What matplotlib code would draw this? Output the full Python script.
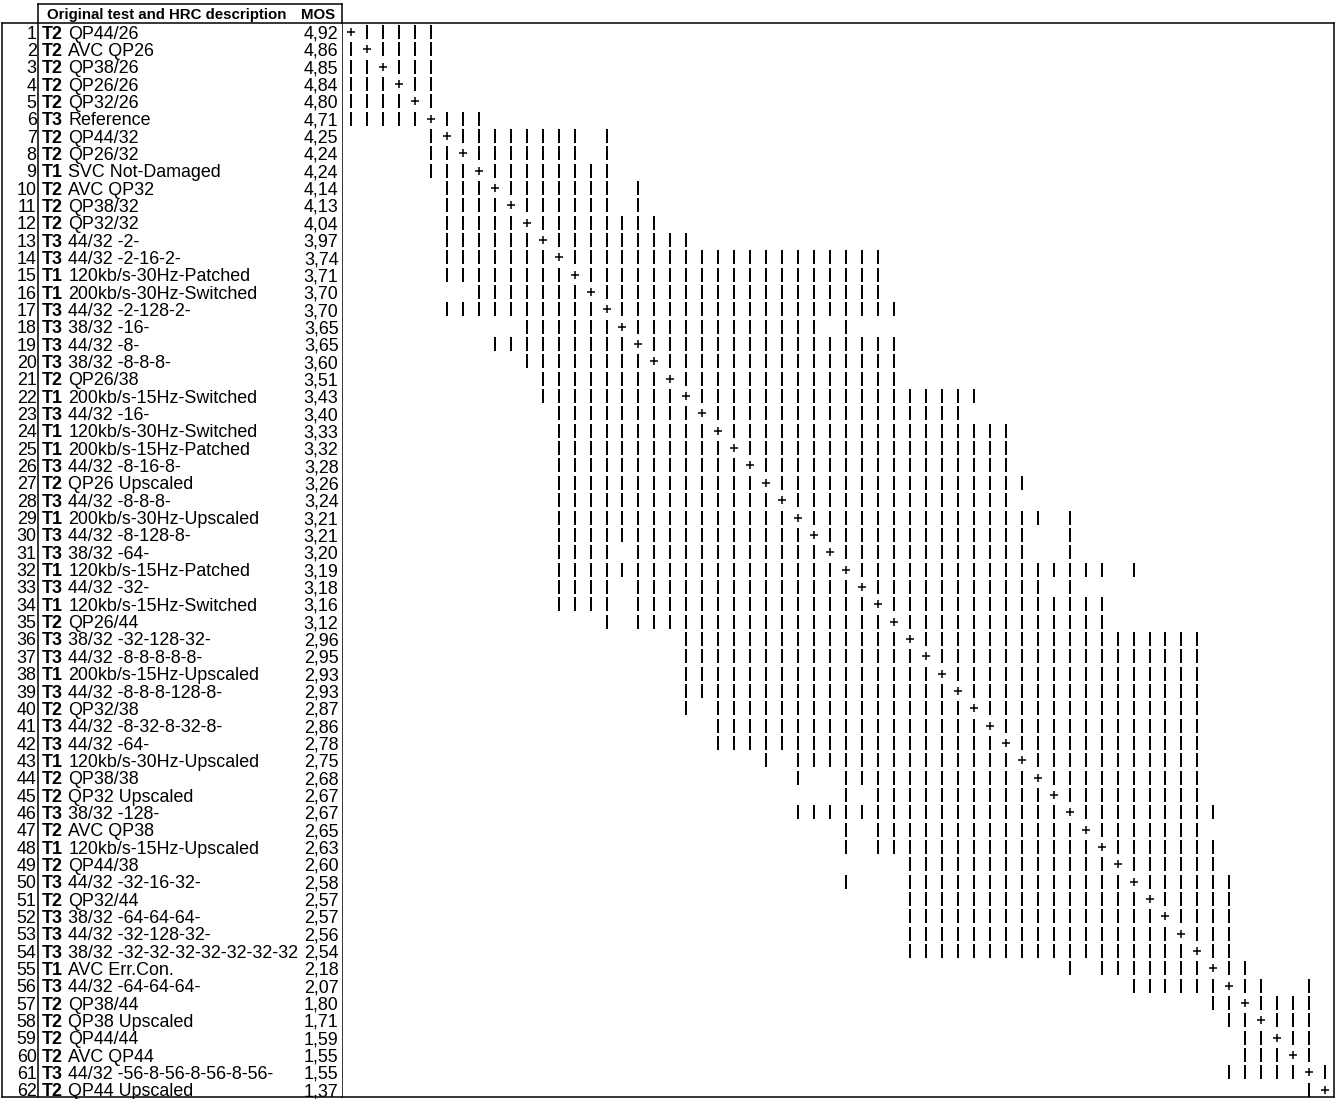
import matplotlib
matplotlib.use("Agg")
import matplotlib.pyplot as plt

plt.rcParams["font.family"] = ["Liberation Sans", "DejaVu Sans"]

ROW_IDS = list(range(1, 63))

TESTS = ["T2", "T2", "T2", "T2", "T2", "T3", "T2", "T2", "T1", "T2",
         "T2", "T2", "T3", "T3", "T1", "T1", "T3", "T3", "T3", "T3",
         "T2", "T1", "T3", "T1", "T1", "T3", "T2", "T3", "T1", "T3",
         "T3", "T1", "T3", "T1", "T2", "T3", "T3", "T1", "T3", "T2",
         "T3", "T3", "T1", "T2", "T2", "T3", "T2", "T1", "T2", "T3",
         "T2", "T3", "T3", "T3", "T1", "T3", "T2", "T2", "T2", "T2",
         "T3", "T2"]

DESCRIPTIONS = [
    "QP44/26", "AVC QP26", "QP38/26", "QP26/26", "QP32/26", "Reference",
    "QP44/32", "QP26/32", "SVC Not-Damaged", "AVC QP32", "QP38/32", "QP32/32",
    "44/32 -2-", "44/32 -2-16-2-", "120kb/s-30Hz-Patched",
    "200kb/s-30Hz-Switched", "44/32 -2-128-2-", "38/32 -16-", "44/32 -8-",
    "38/32 -8-8-8-", "QP26/38", "200kb/s-15Hz-Switched", "44/32 -16-",
    "120kb/s-30Hz-Switched", "200kb/s-15Hz-Patched", "44/32 -8-16-8-",
    "QP26 Upscaled", "44/32 -8-8-8-", "200kb/s-30Hz-Upscaled",
    "44/32 -8-128-8-", "38/32 -64-", "120kb/s-15Hz-Patched", "44/32 -32-",
    "120kb/s-15Hz-Switched", "QP26/44", "38/32 -32-128-32-",
    "44/32 -8-8-8-8-8-", "200kb/s-15Hz-Upscaled", "44/32 -8-8-8-128-8-",
    "QP32/38", "44/32 -8-32-8-32-8-", "44/32 -64-", "120kb/s-30Hz-Upscaled",
    "QP38/38", "QP32 Upscaled", "38/32 -128-", "AVC QP38",
    "120kb/s-15Hz-Upscaled", "QP44/38", "44/32 -32-16-32-", "QP32/44",
    "38/32 -64-64-64-", "44/32 -32-128-32-", "38/32 -32-32-32-32-32-32-32",
    "AVC Err.Con.", "44/32 -64-64-64-", "QP38/44", "QP38 Upscaled",
    "QP44/44", "AVC QP44", "44/32 -56-8-56-8-56-8-56-", "QP44 Upscaled",
]

MOS = [4.92, 4.86, 4.85, 4.84, 4.80, 4.71, 4.25, 4.24, 4.24, 4.14,
       4.13, 4.04, 3.97, 3.74, 3.71, 3.70, 3.70, 3.65, 3.65, 3.60,
       3.51, 3.43, 3.40, 3.33, 3.32, 3.28, 3.26, 3.24, 3.21, 3.21,
       3.20, 3.19, 3.18, 3.16, 3.12, 2.96, 2.95, 2.93, 2.93, 2.87,
       2.86, 2.78, 2.75, 2.68, 2.67, 2.67, 2.65, 2.63, 2.60, 2.58,
       2.57, 2.57, 2.56, 2.54, 2.18, 2.07, 1.80, 1.71, 1.59, 1.55,
       1.55, 1.37]

# columns (to the right of the diagonal) that are NOT significantly
# different from each row; the matrix is symmetric
NOT_SIG_UPPER = [
    "2-6", "3-6", "4-6", "5-6", "6", "7-9", "8-15,17", "9-15,17", "10-17",
    "11-17,19", "12-17,19", "13-20", "14-22", "15-34", "16-34", "17-34",
    "18-35", "19-30,32", "20-35", "21-35", "22-35", "23-40", "24-39",
    "25-42", "26-42", "27-42", "28-43", "29-42", "30-44,46", "31-43,46",
    "32-43,46", "33-48,50", "34-44,46", "35-48", "36-48", "37-54", "38-54",
    "39-54", "40-54", "41-54", "42-54", "43-54", "44-54", "45-54", "46-54",
    "47-55", "48-54", "49-55", "50-55", "51-56", "52-56", "53-56", "54-56",
    "55-56", "56-57", "57,58,61", "58-61", "59-61", "60-61", "61", "62", "",
]


def parse_cols(spec):
    cols = []
    for part in spec.split(","):
        if not part:
            continue
        if "-" in part:
            a, b = map(int, part.split("-"))
            cols.extend(range(a, b + 1))
        else:
            cols.append(int(part))
    return cols


W, H = 1341, 1099
fig = plt.figure(figsize=(W / 100, H / 100), dpi=100)

# vertical mapping: row r sits at pixel 32 + (r-1)*17.34
ROW_PX = 17.34
def row_of(py):
    return 1 + (py - 32) / ROW_PX

y_top, y_bot = row_of(22.7), row_of(1097)
ax_bottom = 1 - 1097 / H
ax_height = (1097 - 22.7) / H

# ── matrix ───────────────────────────────────────────────────────
COL_PX = 15.97
ax_mat = fig.add_axes([342 / W, ax_bottom, (1334 - 342) / W, ax_height])
ax_mat.set_xlim(1 + (342 - 351) / COL_PX, 1 + (1334 - 351) / COL_PX)
ax_mat.set_ylim(y_bot, y_top)
ax_mat.set_xticks([])
ax_mat.set_yticks([])
for sp in ax_mat.spines.values():
    sp.set_linewidth(1.1)

bar_x, bar_y = [], []
for i, spec in enumerate(NOT_SIG_UPPER, start=1):
    for j in parse_cols(spec):
        bar_x += [j, i]
        bar_y += [i, j]

ax_mat.plot(bar_x, bar_y, ls="none", marker="|", ms=10, mew=1.4, color="black")
ax_mat.plot(ROW_IDS, ROW_IDS, ls="none", marker="+", ms=5.5, mew=1.1, color="black")

# ── label table ──────────────────────────────────────────────────
ax_tab = fig.add_axes([2 / W, ax_bottom, 340 / W, ax_height])
ax_tab.set_xlim(2, 342)
ax_tab.set_ylim(y_bot, y_top)
ax_tab.set_xticks([])
ax_tab.set_yticks([])
ax_tab.spines["right"].set_visible(False)
for sp in ax_tab.spines.values():
    sp.set_linewidth(1.1)

head_top = row_of(4)
ax_tab.plot([38, 38], [head_top, y_bot], color="black", lw=1.1, clip_on=False)
ax_tab.plot([38, 342], [head_top, head_top], color="black", lw=1.1, clip_on=False)
ax_tab.plot([342, 342], [head_top, y_top], color="black", lw=1.1, clip_on=False)

head_y = row_of(13.3) + 0.3
ax_tab.text(47, head_y, "Original test and HRC description", fontsize=10.8,
            fontweight="bold", ha="left", va="baseline", clip_on=False)
ax_tab.text(335, head_y, "MOS", fontsize=10.8, fontweight="bold",
            ha="right", va="baseline", clip_on=False)

FS = 12.9
for r, t, d, m in zip(ROW_IDS, TESTS, DESCRIPTIONS, MOS):
    yb = r + 0.38
    ax_tab.text(36.5, yb, str(r), fontsize=FS, ha="right", va="baseline")
    ax_tab.text(41.5, yb, t, fontsize=FS, fontweight="bold", ha="left", va="baseline")
    ax_tab.text(68.5, yb, d, fontsize=FS, ha="left", va="baseline")
    ax_tab.text(338.5, yb, f"{m:.2f}".replace(".", ","), fontsize=FS,
                ha="right", va="baseline")

fig.savefig("out.png", dpi=100)
